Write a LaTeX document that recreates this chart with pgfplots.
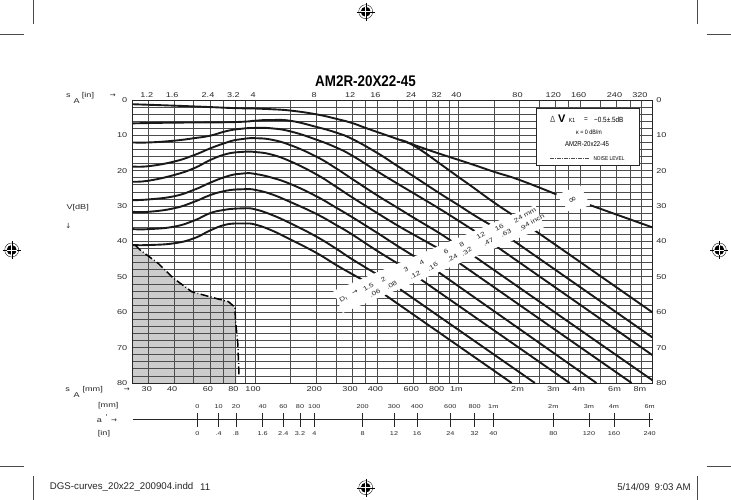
\documentclass[border=0pt]{standalone}
\usepackage{pgfplots}
\pgfplotsset{compat=1.18}
\usepackage{fontspec}
\setmainfont{Liberation Sans}
\newfontfamily\wide[FakeStretch=1.3]{Liberation Sans}
\newfontfamily\narrow[FakeStretch=0.85]{Liberation Sans}
\newfontfamily\titlef[FakeStretch=0.87]{Liberation Sans Bold}
\newfontfamily\djv{DejaVu Sans}
\newcommand\fs[1]{\fontsize{#1}{#1}\selectfont}
\newcommand\regmark[2]{%
  \fill[black] (#1,#2) circle (5);
  \draw[line width=.35pt,black] (#1,#2) circle (7);
  \draw[line width=.35pt,black] ({#1-9},#2) -- ({#1+9},#2);
  \draw[line width=.35pt,black] (#1,{#2-9}) -- (#1,{#2+9});
  \draw[line width=.5pt,white] ({#1-5},#2) -- ({#1+5},#2);
  \draw[line width=.5pt,white] (#1,{#2-5}) -- (#1,{#2+5});
}
\tikzset{
  crv/.style={black!90,line width=1.9pt,mark=none,smooth,tension=0.8},
  strt/.style={black!90,line width=1.9pt,mark=none},
}
\begin{document}
\begin{tikzpicture}
\path[use as bounding box] (0pt,0pt) rectangle (731pt,500pt);
% shaded region below the noise level
\begin{semilogxaxis}[at={(132.7pt,117pt)},anchor=south west,width=519.6pt,height=283pt,scale only axis,
    xmin=25,xmax=9000,ymin=0,ymax=80,y dir=reverse,hide axis]
\addplot[fill=black!20,draw=none] coordinates {(25,41) (25.7,41) (27.2,42.4) (33.4,46.2) (39.7,50.4) (48.8,54.2) (62.4,55.9) (73.9,57) (79.7,58.6) (80,62) (81,80) (25,80) (25,41)};
\end{semilogxaxis}
% main axis
\begin{semilogxaxis}[at={(132.7pt,117pt)},anchor=south west,width=519.6pt,height=283pt,scale only axis,
    xmin=25,xmax=9000,ymin=0,ymax=80,y dir=reverse,
    xtick={30,40,50,60,70,80,90,100,150,200,250,300,350,400,500,600,700,800,900,1000,1500,2000,2500,3000,3500,4000,5000,6000,7000,8000},
    minor xtick={},
    ytick={0,10,...,80},
    major tick length=0pt,minor tick length=0pt,
  axis line style={black!85,line width=.8pt},
  xmajorgrids,ymajorgrids,yminorgrids,
  minor ytick={2,4,...,78},
  major grid style={black!70,line width=.85pt},
  minor grid style={black!70,line width=.85pt},
  xticklabels={30,40,{},60,{},80,{},100,{},200,{},300,{},400,{},600,{},800,{},1m,{},2m,{},3m,{},4m,{},6m,{},8m},
  yticklabels={0,10,20,30,40,50,60,70,80},
  ticklabel style={font=\wide\fs{7},black!85},
  xticklabel style={xshift=-2pt,yshift=-.5pt},
  yticklabel style={xshift=-2pt},
]
% infinity
\addplot[crv] coordinates {(25,1.2) (40,1.6) (60,2.0) (80,2.3) (100,2.4) (120,2.6) (150,3.0) (200,4.05) (250,5.3) (300,6.5) (354,8.0) (517,11.3) (754,14.6) (1143,18) (1500,20.3) (2000,22.6) (3040,26.7)};
\addplot[strt] coordinates {(4440,29.7) (9000,36)};
% 24
\addplot[crv] coordinates {(517,11.3) (578,12.3) (700,15.3) (812,18) (1020,22.1) (1143,24.1) (1500,29) (1830,32.3)};
\addplot[strt] coordinates {(2340,36.6) (3232,42.2) (9000,60)};
% 16
\addplot[crv] coordinates {(25,6.6) (40,6.4) (70,6.3) (90,6.1) (100,5.85) (120,5.65) (150,5.9) (200,7.6) (250,9.2) (300,11) (400,15) (500,18.6) (600,21.5) (800,26.2) (1000,29.7) (1206,32.7) (1430,35.2)};
\addplot[strt] coordinates {(1830,39.4) (9000,67.1)};
% 12
\addplot[crv] coordinates {(25,12) (30,12) (40,11.5) (50,10.8) (60,10.1) (70,9) (80,8.3) (90,8) (100,7.9) (120,8) (150,8.9) (200,11.2) (250,13.4) (300,15.7) (400,20.2) (500,23.6) (600,26.3) (800,30.6) (1000,34.1) (1206,37.1)};
\addplot[strt] coordinates {(1550,41.5) (9000,72.1)};
% 8
\addplot[crv] coordinates {(25,18.8) (30,18.7) (40,17.4) (50,15.6) (60,13.7) (70,12.3) (80,11.3) (90,10.9) (100,10.8) (120,11.2) (150,12.8) (200,16) (250,19.3) (300,22.3) (400,27) (500,30.4) (600,33.2) (800,37.5) (963,40.6)};
\addplot[strt] coordinates {(1206,44.3) (9000,79.2)};
% 6
\addplot[crv] coordinates {(25,23.1) (30,22.8) (40,21.2) (50,19.3) (60,17) (70,15.5) (80,14.8) (90,14.6) (100,14.7) (120,15.4) (150,17.4) (200,21) (250,24.5) (300,27.5) (400,32) (500,35.4) (600,38) (800,42)};
\addplot[strt] coordinates {(1000,45.9) (7120,80)};
% 4
\addplot[crv] coordinates {(25,28.3) (30,28.1) (40,27.2) (50,25.4) (60,23.4) (70,21.9) (80,21) (90,20.7) (100,20.9) (120,21.9) (150,23.8) (200,27.2) (250,30.4) (300,33.1) (400,37.6) (500,41.2) (611,44.3)};
\addplot[strt] coordinates {(800,48.7) (4780,80)};
% 3
\addplot[crv] coordinates {(25,31.6) (30,31.6) (40,30.6) (50,28.8) (60,26.9) (70,25.8) (80,25.3) (90,25.2) (100,25.4) (120,26.6) (150,28.9) (200,32.2) (250,35.3) (300,38) (400,42.7) (517,46.6)};
\addplot[strt] coordinates {(649,50.6) (3530,80)};
% 2
\addplot[crv] coordinates {(25,36.5) (30,36.5) (40,35.8) (50,34.1) (60,32) (70,31.1) (80,30.7) (90,30.6) (100,30.9) (120,32.4) (150,34.9) (200,38.6) (250,42) (300,45) (404,49.5)};
\addplot[strt] coordinates {(517,53.5) (2380,80)};
% 1.5
\addplot[crv] coordinates {(25,41) (30,41) (40,40.5) (50,39.1) (60,36.9) (70,35.4) (80,34.9) (90,34.9) (100,35.2) (120,36.8) (150,39.5) (200,43.2) (250,46.6) (300,49.2) (340,50.9)};
\addplot[strt] coordinates {(436,55.1) (1830,80)};
% noise level
\addplot[black,line width=1.5pt,dash pattern=on 8pt off 2.5pt on .8pt off 2.5pt] coordinates {(25.7,41) (27.2,42.4) (33.4,46.2) (39.7,50.4) (48.8,54.2) (62.4,55.9) (73.9,57) (79.7,58.6) (80,62) (82.2,68.8) (83.4,78.2)};
\end{semilogxaxis}
% top and right labels
\begin{semilogxaxis}[at={(132.7pt,117pt)},anchor=south west,width=519.6pt,height=283pt,scale only axis,
    xmin=25,xmax=9000,ymin=0,ymax=80,y dir=reverse,
    xtick={30,40,50,60,70,80,90,100,150,200,250,300,350,400,500,600,700,800,900,1000,1500,2000,2500,3000,3500,4000,5000,6000,7000,8000},
    minor xtick={},
    ytick={0,10,...,80},
    major tick length=0pt,minor tick length=0pt,
  axis line style={draw=none},
  xticklabel pos=top,yticklabel pos=right,
  xticklabels={1.2,1.6,{},2.4,{},3.2,{},4,{},8,{},12,{},16,{},24,{},32,{},40,{},80,{},120,{},160,{},240,{},320},
  yticklabels={0,10,20,30,40,50,60,70,80},
  ticklabel style={font=\wide\fs{7},black!85},
  xticklabel style={xshift=-2pt,yshift=-1.5pt},
  yticklabel style={xshift=.5pt},
]
\end{semilogxaxis}
% a' scale
\begin{axis}[at={(132.7pt,80.3pt)},anchor=south west,width=520pt,height=1pt,scale only axis,
  xmin=132.7,xmax=652.7,ymin=0,ymax=1,
  axis x line=bottom,axis y line=none,axis line style={-,black!85,line width=1pt},
  xtick={197.3,218.7,236,262.7,283.3,300,314.3,362.7,394,417,450.3,474.7,493.3,553.3,589,614,649.7},
  xticklabels={0,.4,.8,1.6,2.4,3.2,4,8,12,16,24,32,40,80,120,160,240},
  tick align=center,major tick length=14pt,tick style={black!85,line width=.6pt},
  xticklabel style={font=\wide\fs{5.6},black!85,yshift=-1.5pt},
]
\end{axis}
\begin{axis}[at={(132.7pt,80.3pt)},anchor=south west,width=520pt,height=1pt,scale only axis,
  xmin=132.7,xmax=652.7,ymin=0,ymax=1,
  axis x line=top,axis y line=none,axis line style={draw=none},
  xtick={197.3,218.7,236,262.7,283.3,300,314.3,362.7,394,417,450.3,474.7,493.3,553.3,589,614,649.7},
  xticklabels={0,10,20,40,60,80,100,200,300,400,600,800,1m,2m,3m,4m,6m},
  tick align=center,major tick length=0pt,
  xticklabel style={font=\wide\fs{5.6},black!85,yshift=7pt},
]
\end{axis}
% annotations in image pixels
\begin{scope}[x=1pt,y=-1pt,yshift=500pt]
\fill[white] (333.3,291) -- (535.3,205) -- (544.7,227) -- (342.7,313) -- cycle;
\fill[white] (556.7,195) -- (580,185) -- (590,205) -- (570,213) -- cycle;
\begin{scope}[every node/.style={font=\wide\fs{6.2},black!85,rotate=30,inner sep=0pt}]
\node at (343.3,299.3) {D\raisebox{-1.5pt}{\fs{4.5}I}};
\node[font=\djv\fs{7}] at (355,292) {→};
\node at (368.3,287.3) {1.5};
\node at (375,293.3) {.06};
\node at (383.3,280) {2};
\node at (391.7,285) {.08};
\node at (406,269.3) {3};
\node at (415,275) {.12};
\node at (421.7,262.7) {4};
\node at (432.7,266.7) {.16};
\node at (446,251.7) {6};
\node at (452.3,258.3) {.24};
\node at (461.7,245) {8};
\node at (466.7,251.7) {.32};
\node at (480.7,235.7) {12};
\node at (488.3,242.3) {.47};
\node at (499.3,227.7) {16};
\node at (506,233.3) {.63};
\node at (525,215) {24 mm};
\node at (531.7,222.3) {.94 inch};
\node[font=\djv\fs{10}] at (572.7,200) {∞};
\end{scope}
% title
\node[font=\titlef\fs{15.4},inner sep=0pt] at (365.5,81) {AM2R-20X22-45};
% legend box
\draw[fill=white,draw=black!85,line width=.8pt] (536.7,108.3) rectangle (639,165.7);
\node[font=\narrow\itshape\fs{9},inner sep=0pt,text=black!70] at (552.7,119) {∆};
\node[font=\bfseries\fs{11},inner sep=0pt] at (561.7,118.5) {V};
\node[font=\narrow\fs{6},inner sep=0pt] at (572,120.5) {K1};
\node[font=\narrow\fs{7.5},inner sep=0pt] at (586,119.5) {=};
\node[font=\narrow\fs{7.5},inner sep=0pt,anchor=west] at (594,119.5) {−0.5±.5dB};
\node[font=\narrow\fs{6.3},inner sep=0pt] at (589,132.3) {κ = 0 dB/m};
\node[font=\narrow\fs{7.1},inner sep=0pt] at (587,144.3) {AM2R-20x22-45};
\draw[black!70,line width=.4pt,dash pattern=on 4pt off 1pt on 1pt off 1pt] (550,158) -- (590,158);
\node[font=\narrow\fs{5.6},inner sep=0pt] at (609,158.3) {NOISE LEVEL};
% side labels
\begin{scope}[every node/.style={font=\wide\fs{7},black!85,inner sep=0pt}]
\node at (68.3,96) {s};
\node at (76.7,100.7) {A};
\node at (88,95.7) {[in]};
\node[font=\djv\fs{7}] at (112.7,95.7) {→};
\node at (77.7,207.3) {V[dB]};
\node[font=\djv\fs{7}] at (68.3,225.7) {↓};
\node at (67.7,390) {s};
\node at (76.7,395) {A};
\node at (92.7,389.3) {[mm]};
\node[font=\djv\fs{7}] at (126.7,389.3) {→};
\node at (108.3,406) {[mm]};
\node at (99.3,420.7) {a};
\node at (106.7,417.5) {'};
\node[font=\djv\fs{7}] at (114,420.7) {→};
\node at (104,433.3) {[in]};
\end{scope}
% printer marks and slug
\regmark{365.7}{11.7}
\regmark{365.7}{487.7}
\regmark{11.7}{250}
\regmark{719.3}{250}
\draw[black!70,line width=.4pt] (0,466.3) -- (24,466.3) (33.3,476) -- (33.3,500)
  (706.7,466.3) -- (731,466.3) (697.3,476) -- (697.3,500)
  (0,34) -- (24,34) (33.3,0) -- (33.3,24)
  (706.7,34) -- (731,34) (697.3,0) -- (697.3,24);
\node[font=\fs{9.7},inner sep=0pt,anchor=west,text=black!85] at (49.7,487) {DGS-curves\_20x22\_200904.indd};
\node[font=\fs{9.7},inner sep=0pt,anchor=west,text=black!85] at (200,487) {11};
\node[font=\fs{9.7},inner sep=0pt,anchor=east,text=black!85] at (691,487) {5/14/09\hspace{5pt}9:03 AM};
\end{scope}
\end{tikzpicture}
\end{document}
